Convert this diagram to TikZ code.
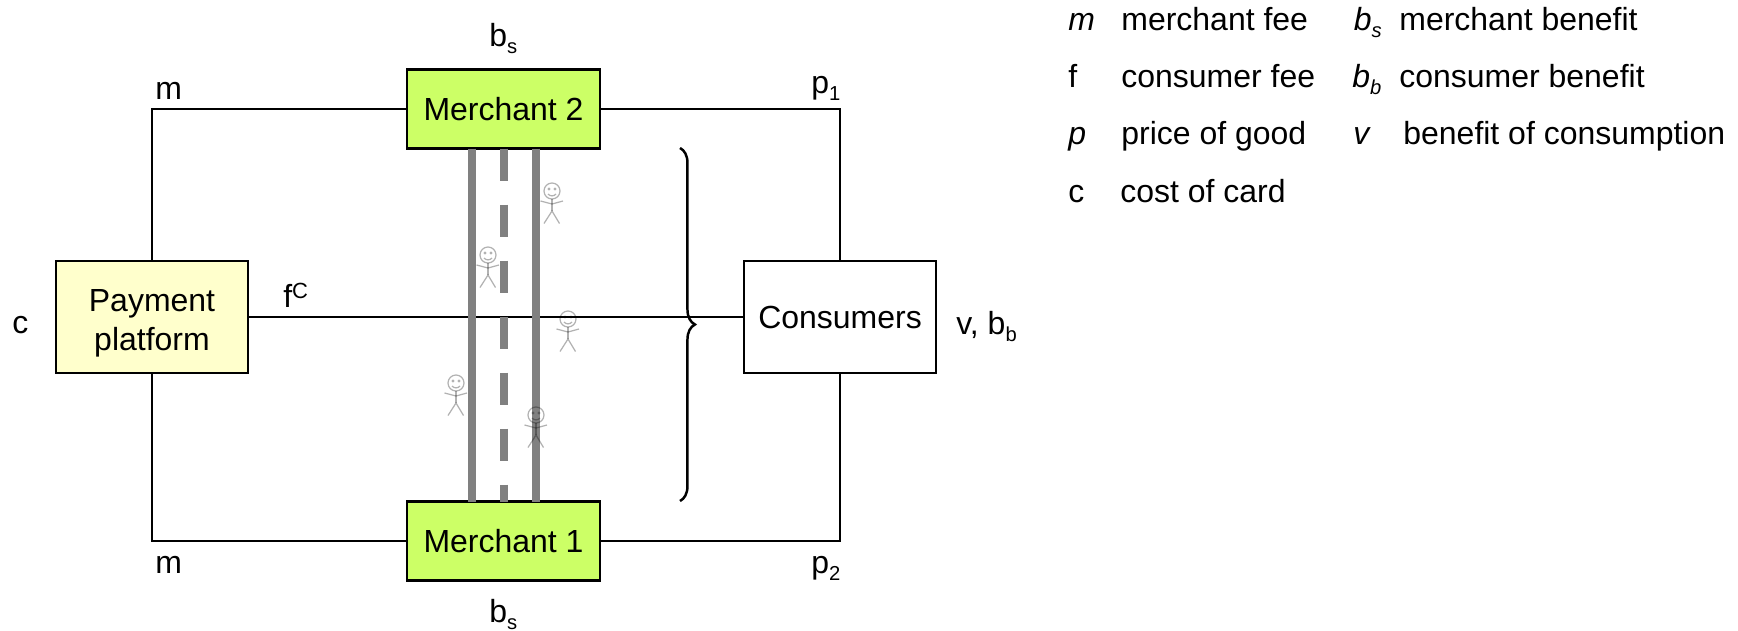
\documentclass[tikz,border=0pt]{standalone}
\usepackage{fontspec}
\setmainfont{Liberation Sans}
\usepackage{tikz}
\usetikzlibrary{arrows.meta,positioning,decorations.pathreplacing}

\definecolor{merchgreen}{HTML}{CCFF66}
\definecolor{payyellow}{HTML}{FFFFCC}

\newcommand{\lowtxt}[1]{\raisebox{-4pt}{\fontsize{11.5}{12}\selectfont #1}}
\newcommand{\hightxt}[1]{\raisebox{4.7pt}{\fontsize{12.5}{13}\selectfont #1}}

\tikzset{
  every node/.style={font=\fontsize{18.2}{22}\selectfont},
  box/.style={draw,line width=1.5pt,outer sep=0pt,inner sep=0pt,align=center},
  wire/.style={line width=1.4pt},
  lane/.style={line width=4.5pt,draw=gray},
  lbl/.style={inner sep=0pt,anchor=base},
  txt/.style={inner sep=0pt,anchor=base west},
  stickman/.pic={
    \begin{scope}[opacity=.3,line width=.7pt]
    \draw (0,0) circle (.16);
    \fill (-.06,.04) circle (.032);
    \fill (.06,.04) circle (.032);
    \draw (-.08,-.06) .. controls (-.04,-.11) and (.04,-.11) .. (.08,-.06);
    \draw (0,-.16) -- (0,-.4);
    \draw (-.23,-.2) -- (0,-.26) -- (.22,-.2);
    \draw (-.16,-.65) -- (0,-.4) -- (.15,-.65);
    \end{scope}
  }
}

\begin{document}
\begin{tikzpicture}
\useasboundingbox (0,0) rectangle (34.76,12.6);

\node[box,fill=payyellow,minimum width=3.84cm,minimum height=2.24cm] (pay) at (3.04,6.26) {\rule{0pt}{.7cm}Payment\\platform};
\node[box,minimum width=3.84cm,minimum height=2.24cm] (cons) at (16.8,6.26) {Consumers};
\node[box,fill=merchgreen,minimum width=3.86cm,minimum height=1.58cm] (merch2) at (10.07,10.42) {Merchant 2};
\node[box,fill=merchgreen,minimum width=3.86cm,minimum height=1.58cm] (merch1) at (10.07,1.78) {Merchant 1};

\draw[wire] (pay.north) |- (merch2.west);
\draw[wire] (merch2.east) -| (cons.north);
\draw[wire] (pay.south) |- (merch1.west);
\draw[wire] (merch1.east) -| (cons.south);
\draw[wire] (pay.east) -- (cons.west);

% the road
\draw[lane] ([xshift=-.63cm]merch2.south) -- ([xshift=-.63cm]merch1.north);
\draw[lane,dash pattern=on .64cm off .48cm] ([xshift=.01cm]merch2.south) -- ([xshift=.01cm]merch1.north);
\draw[lane] ([xshift=.65cm]merch2.south) -- ([xshift=.65cm]merch1.north);

\coordinate (bracetop) at (13.6,9.64);
\coordinate (bracebot) at (13.6,2.58);
\draw[line width=1.4pt,decorate,decoration={brace,amplitude=8.5pt}] (bracetop) -- (bracebot);

\pic at (11.04,8.78) {stickman};
\pic at (9.76,7.5) {stickman};
\pic at (11.36,6.22) {stickman};
\pic at (9.12,4.94) {stickman};
\pic at (10.72,4.3) {stickman};

% labels round the boxes
\node[txt] (bstop) at (9.78,11.68) {b\lowtxt{s}};
\node[txt] (mtop) at (3.1,10.62) {m};
\node[txt] (ptop) at (16.22,10.74) {p\lowtxt{1}};
\node[txt] (mbot) at (3.1,1.14) {m};
\node[txt] (pbot) at (16.22,1.14) {p\lowtxt{2}};
\node[txt] (bsbot) at (9.78,0.16) {b\lowtxt{s}};
\node[txt] (cpay) at (0.24,5.94) {c};
\node[txt] (fcons) at (5.66,6.46) {f\hightxt{C}};
\node[txt] (vb) at (19.12,5.92) {v, b\lowtxt{b}};

% legend
\node[txt] (legm) at (21.36,12) {\textit{m}};
\node[txt] (legmt) at (22.42,12) {merchant fee};
\node[txt] (legbs) at (27.07,12) {\textit{b\lowtxt{s}}};
\node[txt] (legbst) at (27.98,12) {merchant benefit};
\node[txt] (legf) at (21.36,10.86) {f};
\node[txt] (legft) at (22.42,10.86) {consumer fee};
\node[txt] (legbb) at (27.04,10.86) {\textit{b\lowtxt{b}}};
\node[txt] (legbbt) at (27.98,10.86) {consumer benefit};
\node[txt] (legp) at (21.36,9.72) {\textit{p}};
\node[txt] (legpt) at (22.42,9.72) {price of good};
\node[txt] (legv) at (27.06,9.72) {\textit{v}};
\node[txt] (legvt) at (28.06,9.72) {benefit of consumption};
\node[txt] (legc) at (21.36,8.56) {c};
\node[txt] (legct) at (22.4,8.56) {cost of card};

\end{tikzpicture}
\end{document}
